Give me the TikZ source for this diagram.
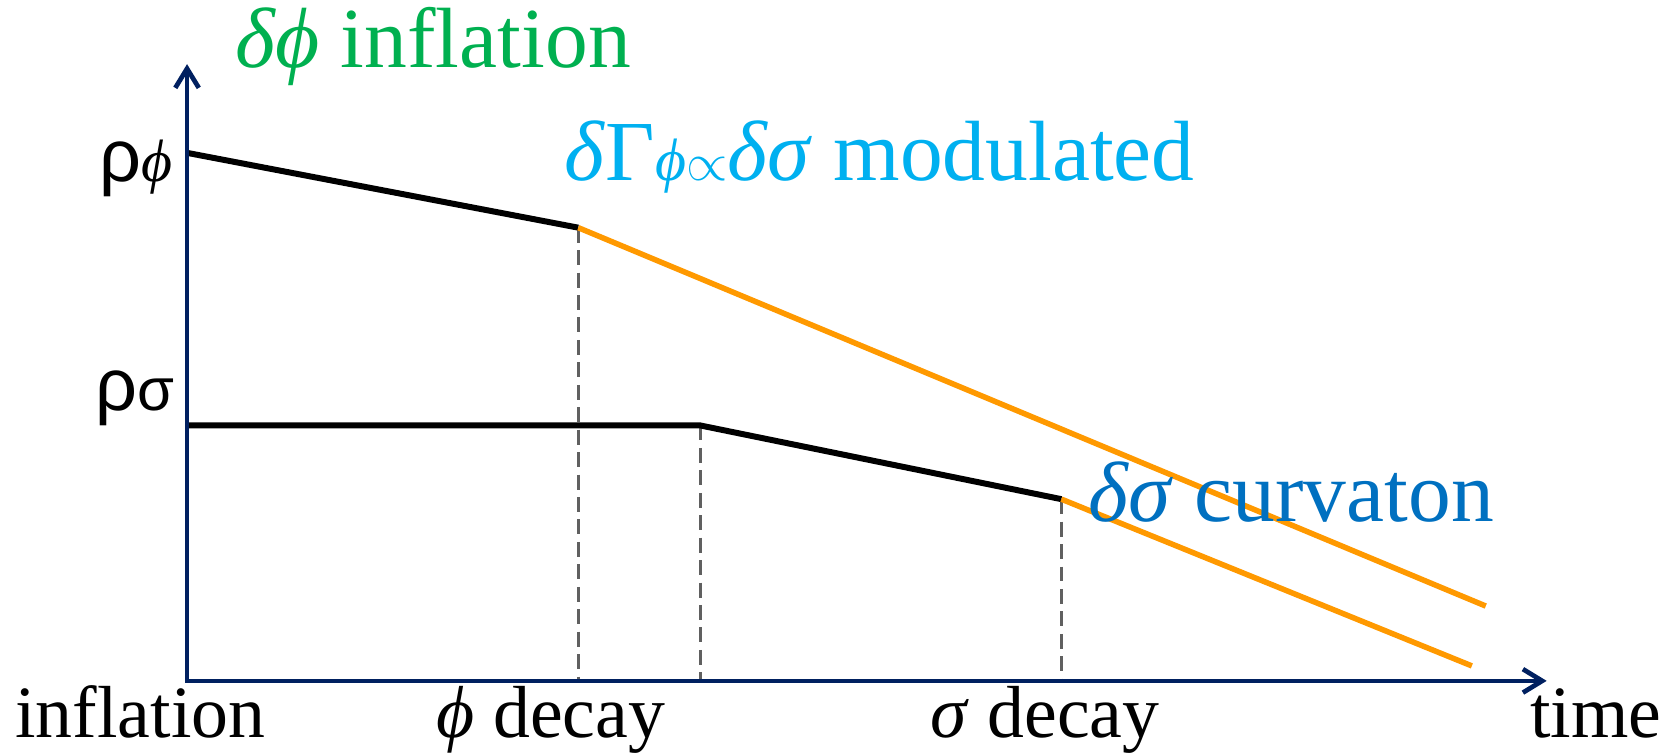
\documentclass[tikz,border=0pt]{standalone}
\usepackage{fontspec}
\setmainfont{Liberation Serif}
\newfontfamily\sansf{Liberation Sans}
\usetikzlibrary{arrows.meta}
\definecolor{navyax}{HTML}{002060}
\definecolor{infgreen}{HTML}{00B050}
\definecolor{modcyan}{HTML}{00B0F0}
\definecolor{curvblue}{HTML}{0070C0}
\definecolor{decorange}{HTML}{FF9900}
\definecolor{dashgray}{HTML}{606060}
\tikzset{
  axtip/.tip={Straight Barb[length=9pt,width=11pt,line width=2.2pt]},
  axis/.style={draw=navyax, line width=2.2pt},
  evo/.style={draw=black, line width=2.8pt},
  decayed/.style={draw=decorange, line width=2.6pt},
  guide/.style={draw=dashgray, line width=1.3pt, dash pattern=on 7pt off 3.5pt},
  lab/.style={inner sep=0pt, font=\fontsize{40}{42}\selectfont},
  axlab/.style={inner sep=0pt, font=\fontsize{34.5}{36}\selectfont},
}
\newcommand{\subsz}{\fontsize{28}{29}\selectfont}
\begin{document}
\begin{tikzpicture}[x=0.5pt,y=-0.5pt]
\useasboundingbox (0,0) rectangle (1568,705);
\coordinate (O) at (175,637);
\coordinate (ytip) at (175,60);
\coordinate (xtip) at (1447,637);
\coordinate (p0) at (175,143);
\coordinate (p1) at (541,213);
\coordinate (p2) at (1390,567);
\coordinate (s0) at (175,398);
\coordinate (s1) at (655,398);
\coordinate (s2) at (993,467);
\coordinate (s3) at (1377,623);

\draw[guide] (p1) -- (p1 |- O);
\draw[guide] (s1) -- (s1 |- O);
\draw[guide] (s2) -- (s2 |- O);

\draw[evo] (p0) -- (p1);
\draw[evo] (s0) -- (s1) -- (s2);
\draw[decayed] (p1) -- (p2);
\draw[decayed] (s2) -- (s3);

\draw[axis, axtip-axtip] (ytip) -- (O) -- (xtip);

\node[lab, text=infgreen, anchor=base west] (tinf) at (220,63) {\textit{δϕ} inflation};
\node[lab, text=modcyan, anchor=base west] (tmod) at (528,169) {\textit{δ}Γ{\subsz\itshape ϕ}{\fontsize{44}{46}\selectfont$\propto$}\textit{δσ} modulated};
\node[lab, text=curvblue, anchor=base west] (tcurv) at (1018,488) {\textit{δσ} curvaton};

\node[axlab, anchor=base east] (rphi) at (162,170) {{\sansf ρ}{\subsz\itshape ϕ}};
\node[axlab, anchor=base east] (rsig) at (164,384) {{\sansf ρ}{\subsz\sansf σ}};

\node[axlab, anchor=base west] (linf) at (14,690) {inflation};
\node[axlab, anchor=base west] (lphi) at (408,690) {\textit{ϕ} decay};
\node[axlab, anchor=base west] (lsig) at (870,690) {\textit{σ} decay};
\node[axlab, anchor=base west] (ltime) at (1431,690) {time};
\end{tikzpicture}
\end{document}
